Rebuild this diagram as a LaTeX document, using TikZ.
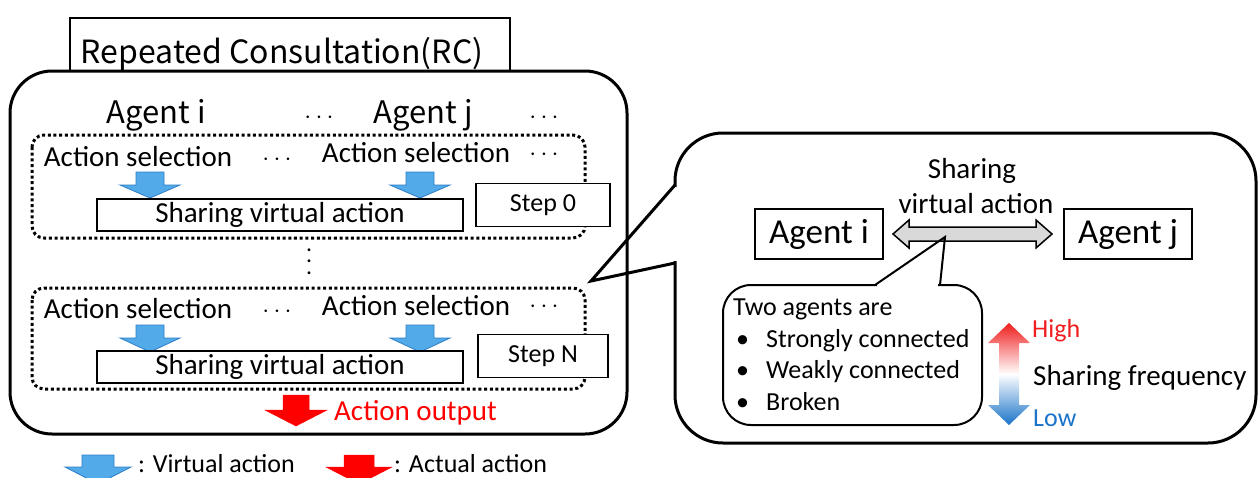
\documentclass[tikz,border=0pt]{standalone}
\usepackage{fontspec}
\setmainfont{Carlito}
\newfontfamily\jpfont{Noto Sans CJK JP}
\newcommand\myfs[1]{\fontsize{#1}{#1}\selectfont}
\definecolor{vblue}{RGB}{83,170,232}
\definecolor{vblueline}{RGB}{45,125,200}
\definecolor{ared}{RGB}{255,0,0}
\definecolor{hired}{RGB}{240,30,30}
\definecolor{lowblue}{RGB}{25,115,200}
\definecolor{arrgray}{RGB}{217,217,217}
% down block arrow: style, cx, top, headstart, tip, halfwidth, halfshaft
\newcommand\downblock[7]{%
  \filldraw[#1] ({#2-#7},#3) -- ({#2+#7},#3) -- ({#2+#7},#4) -- ({#2+#6},#4)
    -- (#2,#5) -- ({#2-#6},#4) -- ({#2-#7},#4) -- cycle;}
\begin{document}
\begin{tikzpicture}[x=1pt,y=-1pt,
  lbl/.style={inner sep=0pt, font=\myfs{29}},
  sm/.style={inner sep=0pt, font=\myfs{26}},
  thinbox/.style={draw, line width=1.5pt, fill=white, inner sep=0pt},
  agbox/.style={draw, line width=2pt, fill=white, inner sep=0pt, minimum width=128, minimum height=50, font=\myfs{35}},
  dotbox/.style={line width=3pt, dash pattern=on 3pt off 2.7pt, rounded corners=12pt},
  varrow/.style={fill=vblue, draw=vblueline, line width=0.8pt},
  rarrow/.style={fill=ared, draw=ared, line width=0.5pt}]
\useasboundingbox (0,0) rectangle (1258,477);
\clip (0,0) rectangle (1258,477);

% ---------- left part ----------
\node[draw, line width=2pt, minimum width=440, minimum height=56, anchor=north west, inner sep=0pt] (titlebox) at (69,17) {};
\node[anchor=base, inner sep=0pt, font=\jpfont\myfs{32}] (titletext) at (282,63) {Repeated Consultation(RC)};
\draw[line width=3pt, rounded corners=42pt, fill=white] (10,71) rectangle (627,434);

\node[anchor=base, inner sep=0pt, font=\jpfont\myfs{31}] (agi) at (156,123) {Agent i};
\node[anchor=base, inner sep=0pt, font=\jpfont\myfs{31}] (agj) at (423,123) {Agent j};
\node[sm] (d1) at (319,118) {$\cdots$};
\node[sm] (d2) at (544,118) {$\cdots$};

% step 0
\draw[dotbox] (32,135) rectangle (585,238);
\node[lbl, anchor=base] (as1) at (138,166) {Action selection};
\node[lbl, anchor=base] (as2) at (416,162) {Action selection};
\node[sm] (d3) at (277,160) {$\cdots$};
\node[sm] (d4) at (544,155) {$\cdots$};
\downblock{varrow}{150}{172}{185}{198}{30}{14}
\downblock{varrow}{420}{172}{185}{198}{30}{14}
\node[thinbox, minimum width=366, minimum height=32, font=\myfs{29}] (sh1) at (280,215) {Sharing virtual action};
\node[thinbox, minimum width=134, minimum height=43, font=\myfs{26}] (st0) at (543,205) {Step 0};

\node[inner sep=0pt, align=center, font=\fontsize{8}{11.5}\selectfont] (vd) at (309,262) {\textbullet\\\textbullet\\\textbullet};

% step N
\draw[dotbox] (32,288) rectangle (585,389);
\node[lbl, anchor=base] (as3) at (138,318) {Action selection};
\node[lbl, anchor=base] (as4) at (416,315) {Action selection};
\node[sm] (d5) at (277,312) {$\cdots$};
\node[sm] (d6) at (544,307) {$\cdots$};
\downblock{varrow}{150}{325}{338}{352}{30}{14}
\downblock{varrow}{420}{325}{338}{352}{30}{14}
\node[thinbox, minimum width=366, minimum height=32, font=\myfs{29}] (sh2) at (280,367) {Sharing virtual action};
\node[thinbox, minimum width=130, minimum height=43, font=\myfs{26}] (stN) at (543,356) {Step N};

\downblock{rarrow}{296}{395}{410}{426}{31}{13}
\node[lbl, anchor=base west, text=ared] (aout) at (334,420) {Action output};

% legend
\downblock{varrow}{98}{455}{467}{484}{33}{16}
\node[sm, anchor=base west] (lg1) at (138,472) {: Virtual action};
\downblock{rarrow}{359}{455}{467}{484}{33}{15}
\node[sm, anchor=base west] (lg2) at (394,472) {: Actual action};

% ---------- right callout ----------
\draw[line width=3pt, rounded corners=48pt] (675,133) rectangle (1256,443);
\fill[white] (672,187) rectangle (678,261);
\draw[line width=3pt, line join=miter] (675,185) -- (591,281) -- (675,263);

\node[agbox] (ri) at (819,234) {Agent i};
\node[agbox] (rj) at (1128,234) {Agent j};
\node[lbl, anchor=base] (shr) at (972,178) {Sharing};
\node[lbl, anchor=base] (vir) at (976,213) {virtual action};

\filldraw[fill=arrgray, draw=black, line width=1.5pt, line join=miter]
  (893,234) -- (909,220) -- (909,227) -- (1036,227) -- (1036,220) -- (1052,234)
  -- (1036,248) -- (1036,241) -- (909,241) -- (909,248) -- cycle;

% bubble
\draw[line width=2pt, rounded corners=28pt, fill=white] (723,285) rectangle (982,425);
\fill[white] (877,283) rectangle (938,288);
\draw[line width=2pt, line join=miter] (875,285) -- (945,237) -- (940,285);
\node[sm, anchor=base west] (two) at (733,315) {Two agents are};
\node[sm, anchor=base west] (b1) at (736,347) {\textbullet};
\node[sm, anchor=base west] (t1) at (766,347) {Strongly connected};
\node[sm, anchor=base west] (b2) at (736,378) {\textbullet};
\node[sm, anchor=base west] (t2) at (766,378) {Weakly connected};
\node[sm, anchor=base west] (b3) at (736,410) {\textbullet};
\node[sm, anchor=base west] (t3) at (766,410) {Broken};

% gradient double arrow
\shade[top color=hired, bottom color=lowblue, middle color=white]
  (1009,323) -- (1030,343) -- (1019,343) -- (1019,405) -- (1030,405) -- (1009,425)
  -- (988,405) -- (999,405) -- (999,343) -- (988,343) -- cycle;
\node[sm, anchor=base west, text=hired] (hi) at (1032,337) {High};
\node[lbl, anchor=base west] (sf) at (1033,385) {Sharing frequency};
\node[sm, anchor=base west, text=lowblue] (lo) at (1033,426) {Low};
\end{tikzpicture}
\end{document}
